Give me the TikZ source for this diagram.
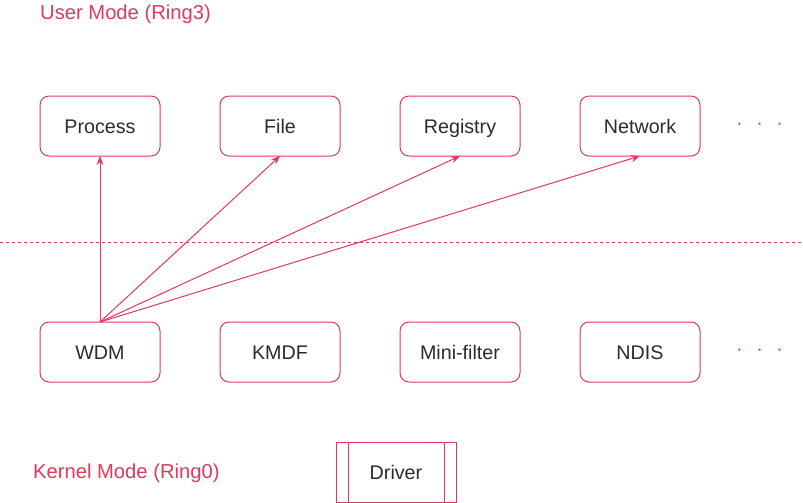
\documentclass[tikz,border=0pt]{standalone}
\usepackage{fontspec}
\setmainfont{Liberation Sans}
\usepackage{xcolor}
\usepackage{tikz}
\usetikzlibrary{arrows.meta,positioning}

\definecolor{ringred}{HTML}{DE3A5C}
\definecolor{boxtext}{HTML}{2B2B2B}

\begin{document}
\begin{tikzpicture}[
  x=1pt, y=1pt,
  font=\fontsize{19.7}{22}\selectfont,
  node distance=166pt and 60pt,
  box/.style={draw=ringred, line width=1pt, outer sep=0pt, rounded corners=9pt, align=center, minimum width=120pt, minimum height=60pt, text height=18.5pt, text depth=4pt, text=boxtext},
  procbox/.style={draw=ringred, line width=1pt, outer sep=0pt, minimum width=120pt, minimum height=60pt, text height=18.5pt, text depth=4pt, text=boxtext,
    path picture={
      \draw[ringred, line width=1pt] ([xshift=12pt]path picture bounding box.north west) -- ([xshift=12pt]path picture bounding box.south west);
      \draw[ringred, line width=1pt] ([xshift=-12pt]path picture bounding box.north east) -- ([xshift=-12pt]path picture bounding box.south east);
    }},
  ring/.style={text=ringred, inner sep=0pt, anchor=west, font=\fontsize{20.2}{22}\selectfont},
  more/.style={text=ringred, inner sep=0pt},
  arrow/.style={-{Stealth[length=9pt,width=7pt]}, ringred, line width=1pt},
  sep/.style={ringred, line width=1pt, dash pattern=on 3pt off 3pt}
]
\useasboundingbox (0,0) rectangle (803,-503);

% user side
\node[ring] (user) at (40,-14) {User Mode (Ring3)};
\node[box] (process) at (100,-126) {Process};
\node[box, right=of process] (file) {File};
\node[box, right=of file] (registry) {Registry};
\node[box, right=of registry] (network) {Network};
\node[more, right=36pt of network] (moreu) {·\hskip13.5pt·\hskip13.5pt·};

% ring boundary
\coordinate (sepl) at (0,-242);
\coordinate (sepr) at (803,-242);
\draw[sep] (sepl) -- (sepr);

% kernel side
\node[box, below=of process] (wdm) {WDM};
\node[box, right=of wdm] (kmdf) {KMDF};
\node[box, right=of kmdf] (minifilter) {Mini-filter};
\node[box, right=of minifilter] (ndis) {NDIS};
\node[more, right=36pt of ndis] (morek) {·\hskip13.5pt·\hskip13.5pt·};
\node[procbox] (driver) at (396,-472) {Driver};
\node[ring] (kernel) at (33,-473) {Kernel Mode (Ring0)};

\draw[arrow] (wdm.north) -- (process.south);
\draw[arrow] (wdm.north) -- (file.south);
\draw[arrow] (wdm.north) -- (registry.south);
\draw[arrow] (wdm.north) -- (network.south);
\end{tikzpicture}
\end{document}
